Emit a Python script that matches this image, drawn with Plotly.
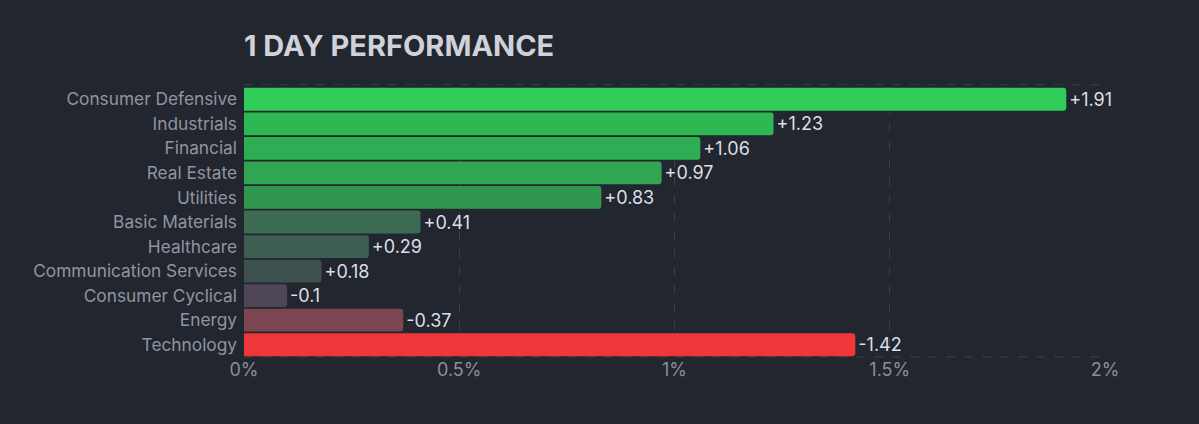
import plotly.graph_objects as go

sectors = ["Consumer Defensive", "Industrials", "Financial", "Real Estate", "Utilities",
           "Basic Materials", "Healthcare", "Communication Services", "Consumer Cyclical",
           "Energy", "Technology"]
changes = [1.91, 1.23, 1.06, 0.97, 0.83, 0.41, 0.29, 0.18, -0.1, -0.37, -1.42]
colors = ["#30cd58", "#2eb853", "#2fad52", "#30a652", "#31974e", "#3b6b52", "#3d5e50",
          "#3d524e", "#4f4658", "#7c4552", "#ef3639"]
tick_vals = [0, 0.5, 1, 1.5, 2]
tick_text = ["0%", "0.5%", "1%", "1.5%", "2%"]

magnitudes = [abs(v) for v in changes]
labels = [("+" if v > 0 else "") + f"{v:g}" for v in changes]

fig = go.Figure(go.Bar(
    x=magnitudes, y=sectors, orientation="h",
    marker=dict(color=colors, line=dict(width=0), cornerradius=3),
    text=labels, textposition="outside", cliponaxis=False,
    textfont=dict(color="#dcdfe6", size=18, family="Inter"),
    hoverinfo="skip",
))

fig.update_layout(
    width=1199, height=424,
    paper_bgcolor="#22262e", plot_bgcolor="#22262e",
    margin=dict(l=244, r=94, t=87, b=67),
    bargap=0.07,
    showlegend=False,
    font=dict(family="Inter", color="#8a8e99", size=17),
    title=dict(text="<b>1 DAY PERFORMANCE</b>", x=244/1199, xanchor="left", y=0.893, yanchor="middle",
               font=dict(size=29, color="#cfd2db", family="Inter")),
    xaxis=dict(range=[0, 2], tickvals=tick_vals, ticktext=tick_text, showgrid=True,
               gridcolor="#3a3e48", griddash="dash", gridwidth=1, zeroline=False,
               showline=False, ticks="", tickfont=dict(size=18, color="#8a8e99"), ticklabelstandoff=0),
    yaxis=dict(categoryorder="array", categoryarray=sectors[::-1], showgrid=False,
               ticks="", tickfont=dict(size=17.3, color="#9195a1"), ticklabelstandoff=6),
    shapes=[
        dict(type="line", xref="paper", yref="paper", x0=0, x1=1, y0=1.008, y1=1.008,
             line=dict(color="#3a3e48", width=1, dash="dash"), layer="below"),
        dict(type="line", xref="paper", yref="paper", x0=0, x1=1, y0=0, y1=0,
             line=dict(color="#3a3e48", width=1, dash="dash"), layer="below"),
    ],
)

fig.write_html("out.html", config={"displayModeBar": False},
               post_script="document.body.style.margin='0';document.body.style.background='#22262e';")
